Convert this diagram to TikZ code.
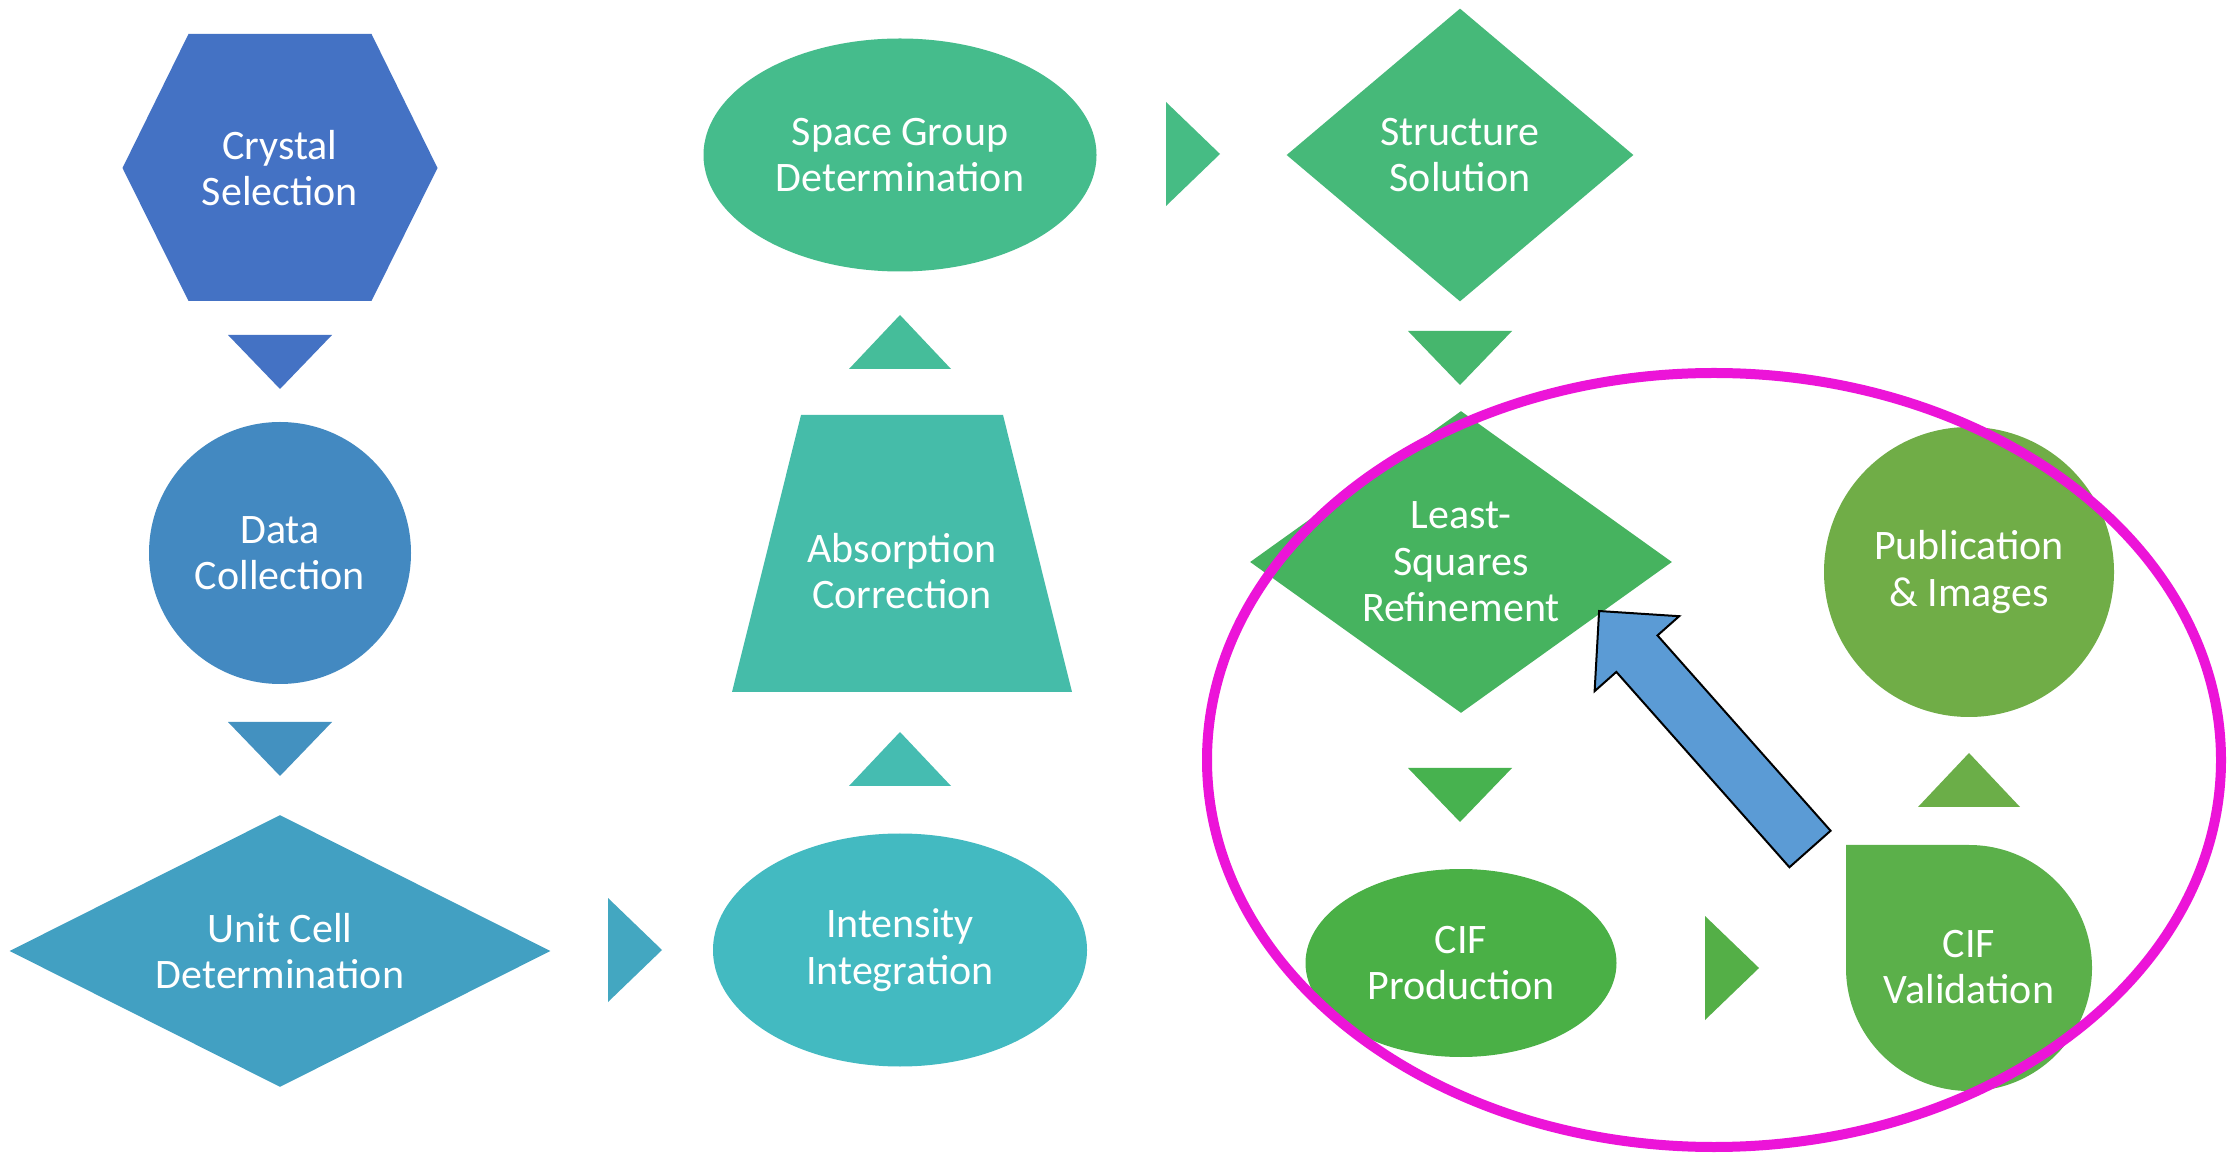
\documentclass[tikz,border=0pt]{standalone}
\usepackage{fontspec}
\setmainfont{Carlito}
\usepackage{tikz}
\usetikzlibrary{shapes.geometric}
\definecolor{selblue}{HTML}{4472C4}
\definecolor{colblue}{HTML}{4389C1}
\definecolor{tri2}{HTML}{4391C0}
\definecolor{cellblue}{HTML}{42A0C2}
\definecolor{tri3}{HTML}{43A7C1}
\definecolor{intteal}{HTML}{43BAC1}
\definecolor{tri4}{HTML}{45BCB1}
\definecolor{absteal}{HTML}{45BCA9}
\definecolor{tri5}{HTML}{45BD9A}
\definecolor{sgmint}{HTML}{45BC8C}
\definecolor{tri6}{HTML}{46BC84}
\definecolor{solgreen}{HTML}{46B979}
\definecolor{tri7}{HTML}{46B66D}
\definecolor{lsqgreen}{HTML}{46B35F}
\definecolor{tri8}{HTML}{47B24F}
\definecolor{cifgreen}{HTML}{4AB046}
\definecolor{tri9}{HTML}{54AF47}
\definecolor{valgreen}{HTML}{5BB04A}
\definecolor{tri10}{HTML}{6BAE48}
\definecolor{pubgreen}{HTML}{70AD47}
\definecolor{fbblue}{HTML}{5B9BD5}
\definecolor{hilite}{HTML}{EC14D8}

\begin{document}
\begin{tikzpicture}[x=0.5pt, y=0.5pt,
  lbl/.style={text=white, align=center, inner sep=0pt, font=\fontsize{21}{23.3}\selectfont},
  stepcirc/.style={lbl, circle},
  stepell/.style={lbl, ellipse},
  stepdia/.style={lbl, diamond},
  pics/tridown/.style={code={\fill[#1] (-52,27) -- (52,27) -- (0,-27) -- cycle;}},
  pics/triup/.style={code={\fill[#1] (-51,-27) -- (51,-27) -- (0,27) -- cycle;}},
  pics/triright/.style={code={\fill[#1] (-27,52) -- (-27,-52) -- (27,0) -- cycle;}},
  fbarrow/.style={fill=fbblue, draw=black, line width=1pt, line join=miter},
  ring/.style={draw=hilite, line width=5pt}
]
\path[use as bounding box, fill=white] (0,0) rectangle (2227,1152);

% left column
\fill[selblue] (122.5,984) -- (188.5,1118) -- (371.5,1118) -- (437.5,984)
  -- (371.5,851) -- (188.5,851) -- cycle;
\node[lbl] (cryst) at (280,984) {Crystal\\Selection};
\pic at (280,790) {tridown=selblue};
\node[stepcirc, fill=colblue, minimum size=131pt] (datacoll) at (280,599) {Data\\Collection};
\pic at (280,403) {tridown=tri2};
\node[stepdia, fill=cellblue, aspect=2, minimum width=270.5pt, minimum height=136pt]
  (unitcell) at (280,201) {Unit Cell\\Determination};
\pic at (635,202) {triright=tri3};

% middle column
\node[stepell, fill=intteal, minimum width=187pt, minimum height=116.5pt]
  (intens) at (900,202) {Intensity\\Integration};
\pic at (900,393) {triup=tri4};
\fill[absteal] (732,460) -- (801,737) -- (1003,737) -- (1072,460) -- cycle;
\node[lbl] (absorb) at (902,581) {Absorption\\Correction};
\pic at (900,810) {triup=tri5};
\node[stepell, fill=sgmint, minimum width=196.5pt, minimum height=116.5pt]
  (spacegrp) at (900,997) {Space Group\\Determination};
\pic at (1193,998) {triright=tri6};

% right part
\node[stepdia, fill=solgreen, aspect=1.18, minimum width=173.5pt, minimum height=146.5pt]
  (structsol) at (1460,997) {Structure\\Solution};
\pic at (1460,794) {tridown=tri7};
\node[stepdia, fill=lsqgreen, aspect=1.39, minimum width=211pt, minimum height=151pt]
  (lsq) at (1461,590) {Least-\\Squares\\Refinement};
\pic at (1460,357) {tridown=tri8};
\node[stepell, fill=cifgreen, minimum width=155.5pt, minimum height=94pt]
  (cifprod) at (1461,189) {CIF\\Production};
\pic at (1732,184) {triright=tri9};
\fill[valgreen] (1846,307) -- (1969,307) arc[start angle=90, end angle=-180, radius=123] -- cycle;
\node[lbl] (cifval) at (1969,185) {CIF\\Validation};
\pic at (1969,372) {triup=tri10};
\node[stepcirc, fill=pubgreen, minimum size=145pt] (pubimg) at (1969,580) {Publication\\\& Images};

% feedback arrow
\coordinate (fbtail) at (1810,303);
\begin{scope}[shift={(fbtail)}, rotate=131.55]
  \path[fbarrow] (0,-27.5) -- (261,-27.5) -- (261,-56.5) -- (318,0)
    -- (261,56.5) -- (261,27.5) -- (0,27.5) -- cycle;
\end{scope}

% highlight
\draw[ring] (1714,392) ellipse[x radius=507, y radius=387];
\end{tikzpicture}
\end{document}
